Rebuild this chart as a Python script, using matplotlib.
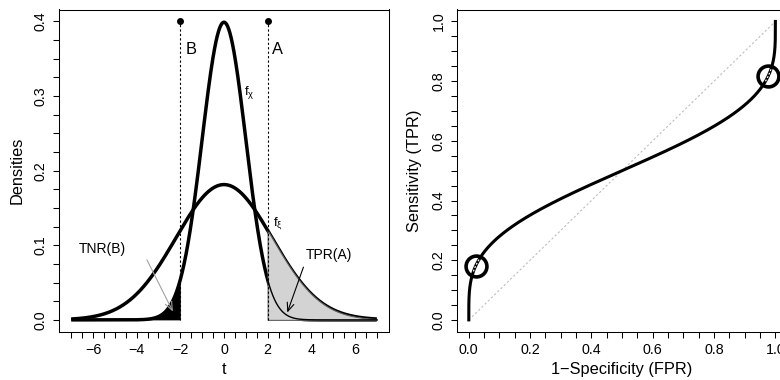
import math
import matplotlib
matplotlib.use('Agg')
import matplotlib.pyplot as plt
import numpy as np

plt.rcParams['font.family'] = ['Liberation Sans', 'DejaVu Sans']
plt.rcParams['mathtext.fontset'] = 'custom'
plt.rcParams['mathtext.rm'] = 'Liberation Sans'
plt.rcParams['mathtext.it'] = 'Liberation Sans'

# two normal densities
mu_chi, sd_chi = 0.0, 1.0      # f_chi: peak 0.40
mu_xi, sd_xi = 0.0, 2.2        # f_xi: peak ~0.18
cut_A, cut_B = 2.0, -2.0       # thresholds A and B
t_lo, t_hi = -7.0, 7.0

t = np.linspace(t_lo, t_hi, 1401)

def dnorm(x, m, s):
    return np.exp(-0.5 * ((x - m) / s) ** 2) / (s * math.sqrt(2 * math.pi))

def pnorm(x, m, s):
    return 0.5 * (1 + np.vectorize(math.erf)((x - m) / (s * math.sqrt(2))))

f_chi = dnorm(t, mu_chi, sd_chi)
f_xi = dnorm(t, mu_xi, sd_xi)

fig = plt.figure(figsize=(7.8, 3.8), dpi=100)
ax1 = fig.add_axes([0.0756, 0.1268, 0.4231, 0.8482])
ax2 = fig.add_axes([0.5853, 0.1268, 0.4245, 0.8482])

def style(ax):
    for sp in ax.spines.values():
        sp.set_linewidth(0.75)
    ax.tick_params(direction='out', length=4, width=0.75, labelsize=10.3, pad=4)
    for lab in ax.get_yticklabels():
        lab.set_rotation(90)
        lab.set_va('center')

def labels(vals, every):
    out = []
    for v in vals:
        if abs(v / every - round(v / every)) < 1e-6:
            out.append(f"{v:.1f}" if every < 1 else f"{v:g}")
        else:
            out.append('')
    return [s.replace('-', '\u2212') for s in out]

# ---- left: densities
ax1.plot(t, f_chi, color='black', lw=2.5, zorder=2, solid_capstyle='butt')
ax1.plot(t, f_xi, color='black', lw=2.5, zorder=2, solid_capstyle='butt')
left = t <= cut_B
ax1.fill_between(t[left], 0, f_chi[left], color='black', lw=0, zorder=3)
right = t >= cut_A
ax1.fill_between(t[right], 0, f_xi[right], facecolor='#d3d3d3', edgecolor='#606060', lw=0.8, zorder=3)
ax1.plot(t[right], f_chi[right], color='black', lw=1.0, zorder=4)
for c in (cut_A, cut_B):
    ax1.plot([c, c], [0, 0.4], color='black', lw=0.8, ls=(0, (2, 2)), zorder=5)
    ax1.plot(c, 0.4, 'o', color='black', ms=4, zorder=6)
ax1.text(cut_B + 0.22, 0.362, 'B', fontsize=11.8, va='center', ha='left')
ax1.text(cut_A + 0.22, 0.362, 'A', fontsize=11.8, va='center', ha='left')
ax1.text(0.9, 0.305, r'$\mathrm{f}_{\mathrm{\u03c7}}$'.replace('\\u03c7', '\u03c7'),
         fontsize=9.5, va='center', ha='left')
ax1.text(2.25, 0.130, r'$\mathrm{f}_{\mathrm{\u03be}}$'.replace('\\u03be', '\u03be'),
         fontsize=9.5, va='center', ha='left')
ax1.text(-5.59, 0.0956, 'TNR(B)', fontsize=10, ha='center', va='center')
ax1.text(4.83, 0.0863, 'TPR(A)', fontsize=10, ha='center', va='center')
ax1.annotate('', xy=(-2.34, 0.0112), xytext=(-3.53, 0.0805),
             arrowprops=dict(arrowstyle='->,head_length=0.6,head_width=0.25', color='#a0a0a0',
                             lw=0.8, shrinkA=0, shrinkB=0), zorder=7)
ax1.annotate('', xy=(2.90, 0.0098), xytext=(3.64, 0.0707),
             arrowprops=dict(arrowstyle='->,head_length=0.6,head_width=0.25', color='black',
                             lw=0.8, shrinkA=0, shrinkB=0), zorder=7)
ax1.set_xlim(-7.56, 7.56)
ax1.set_ylim(-0.016, 0.416)
xt = np.arange(-7, 7.01, 0.5)
ax1.set_xticks(xt)
ax1.set_xticklabels(labels(xt, 2))
yt = np.arange(0, 0.4001, 0.025)
ax1.set_yticks(yt)
ax1.set_yticklabels(labels(yt, 0.1))
ax1.set_xlabel('t', fontsize=11.8, labelpad=4)
ax1.set_ylabel('Densities', fontsize=11.8, labelpad=7)
style(ax1)

# ---- right: ROC
tt = np.linspace(-9, 9, 3001)
fpr = 1 - pnorm(tt, mu_chi, sd_chi)
tpr = 1 - pnorm(tt, mu_xi, sd_xi)
ax2.plot([0, 1], [0, 1], color='#bebebe', lw=0.8, ls=(0, (2, 2)), zorder=1)
ax2.plot(fpr, tpr, color='black', lw=2.2, zorder=2)
for c in (cut_A, cut_B):
    px = 1 - pnorm(np.array([c]), mu_chi, sd_chi)[0]
    py = 1 - pnorm(np.array([c]), mu_xi, sd_xi)[0]
    near = np.hypot((fpr - px) * 306.7, (tpr - py) * 299) < 7
    ax2.plot(fpr[near], tpr[near], color='white', lw=0.9, ls=(0, (1.5, 1.5)), zorder=3)
    ax2.plot(px, py, 'o', mfc='none', mec='black', mew=2.6, ms=15, zorder=4)
ax2.set_xlim(-0.04, 1.04)
ax2.set_ylim(-0.04, 1.04)
rt = np.arange(0, 1.0001, 0.05)
ax2.set_xticks(rt)
ax2.set_xticklabels(labels(rt, 0.2))
ax2.set_yticks(rt)
ax2.set_yticklabels(labels(rt, 0.2))
ax2.set_xlabel('1\u2212Specificity (FPR)', fontsize=11.8, labelpad=4)
ax2.set_ylabel('Sensitivity (TPR)', fontsize=11.8, labelpad=7)
style(ax2)

fig.savefig('out.png', dpi=100)
